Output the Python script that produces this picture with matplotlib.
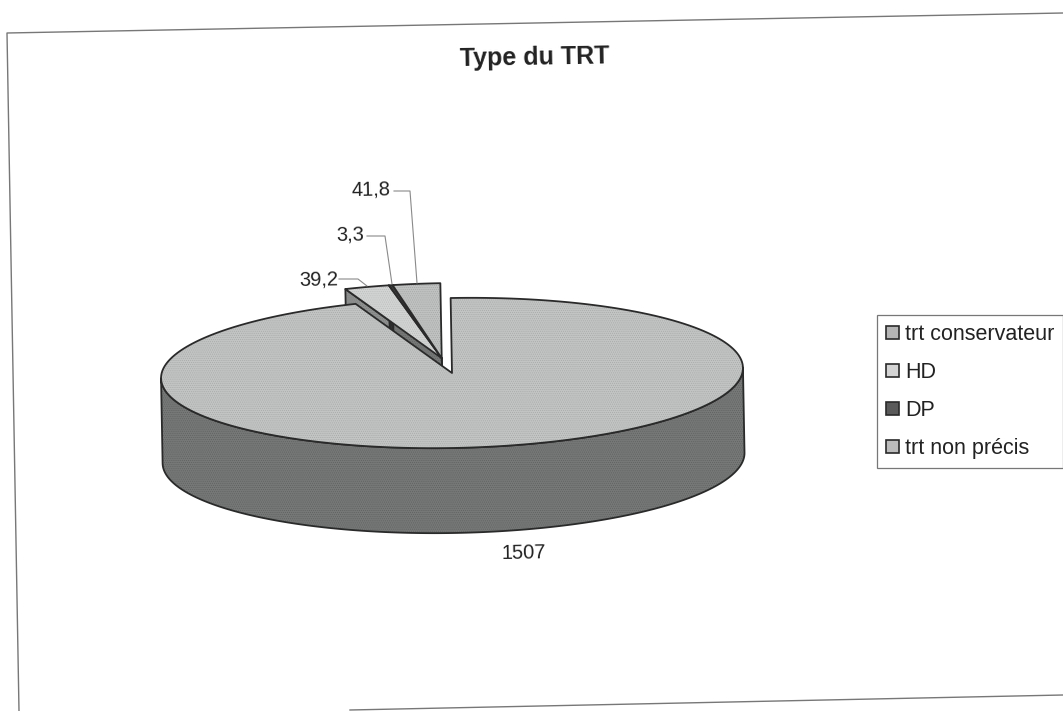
import numpy as np
import matplotlib
matplotlib.use("Agg")
import matplotlib.pyplot as plt
from matplotlib.patches import Polygon, Patch
from matplotlib.transforms import Affine2D

plt.rcParams['font.family'] = ['Liberation Sans', 'DejaVu Sans']
plt.rcParams['hatch.linewidth'] = 0.4

title = "Type du TRT"
categories = ["trt conservateur", "HD", "DP", "trt non précis"]
values = [1507, 39.2, 3.3, 41.8]
top_colors = ["#c2c4c4", "#d2d3d3", "#3f3f3f", "#bfc1c1"]
top_grain = ["#a6a8a8", "#b8baba", "#2c2c2c", "#a4a6a6"]
side_colors = ["#767878", "#8f9090", "#333333", "#767878"]
side_grain = ["#5e6060", "#767878", "#222222", "#5e6060"]
legend_colors = ["#b5b5b5", "#d4d4d4", "#5a5a5a", "#bcbcbc"]

CX, CY, RX, RY, DEPTH = 452, 373, 291, 75, 85
EXPLODE = (-10, -15)
EDGE = "#2a2a2a"
TILT = -1.05

fig = plt.figure(figsize=(10.63, 7.11), dpi=100, facecolor="white")
ax = fig.add_axes([0, 0, 1, 1])
ax.set_xlim(0, 1063)
ax.set_ylim(711, 0)
ax.axis("off")
rot = Affine2D().rotate_deg_around(CX, CY, TILT) + ax.transData


def rim(a0, a1, dx=0, dy=0, n=200):
    t = np.radians(np.linspace(a0, a1, n))
    return np.c_[CX + dx + RX * np.sin(t), CY + dy - RY * np.cos(t)]


def poly(pts, fc, grain, z, lw=1.3):
    ax.add_patch(Polygon(pts, closed=True, facecolor=fc, edgecolor=grain, hatch="........",
                         linewidth=0, transform=rot, zorder=z))
    ax.add_patch(Polygon(pts, closed=True, facecolor="none", edgecolor=EDGE,
                         linewidth=lw, joinstyle="round", transform=rot, zorder=z + 0.001))


# angles clockwise from the top, from the values
cum = np.concatenate([[0], np.cumsum(values)]) / np.sum(values) * 360
starts, ends = cum[:-1], cum[1:]

# exploded slices first (they sit behind the main slice)
for i in range(1, len(values)):
    dx, dy = EXPLODE
    apex = np.array([CX + dx, CY + dy])
    arc = rim(starts[i], ends[i], dx, dy)
    left_edge = np.array([apex, arc[0], arc[0] + [0, DEPTH], apex + [0, DEPTH]])
    poly(left_edge, side_colors[i], side_grain[i], 2 + i * 0.01)
    poly(np.vstack([apex, arc]), top_colors[i], top_grain[i], 2.5 + i * 0.01)

# main slice: front wall, then top face
front = rim(90, 270)
wall = np.vstack([front, (front + [0, DEPTH])[::-1]])
poly(wall, side_colors[0], side_grain[0], 3)
apex = np.array([CX, CY])
poly(np.vstack([apex, rim(starts[0], ends[0])]), top_colors[0], top_grain[0], 4)

# data labels with leader lines
label_pos = [(524, 553), (338, 280), (364, 235), (391, 190)]
leaders = [None,
           [(339, 279), (358, 279), (367, 286)],
           [(367, 236), (385, 236), (392, 284)],
           [(394, 191), (410, 191), (417, 283)]]
for v, (x, y), lead in zip(values, label_pos, leaders):
    txt = f"{v}".replace(".", ",")
    ha = "center" if lead is None else "right"
    ax.text(x, y, txt, ha=ha, va="center", fontsize=14.5, color="#222222", rotation=1)
    if lead:
        xs, ys = zip(*lead)
        ax.plot(xs, ys, color="#8a8a8a", lw=0.8, zorder=6)

# chart frame
ax.plot([1063, 7, 19], [13, 33, 711], color="#777777", lw=1)
ax.plot([350, 1063], [710, 695], color="#777777", lw=1)

ax.text(535, 58, title, ha="center", va="center", fontsize=18,
        fontweight="bold", color="#222222", rotation=1)

handles = [Patch(facecolor=c, edgecolor=EDGE, linewidth=1.2) for c in legend_colors]
leg = ax.legend(handles, categories, loc="upper left",
                bbox_to_anchor=(877 / 1063, 1 - 315 / 711), fontsize=15.5,
                frameon=True, fancybox=False, edgecolor="#777777", facecolor="white",
                framealpha=1, handlelength=0.6, handleheight=0.6, handletextpad=0.28,
                labelspacing=0.79, borderpad=0.42, borderaxespad=0, labelcolor="#222222")
leg.get_frame().set_linewidth(0.9)

fig.savefig("out.png", dpi=100)
